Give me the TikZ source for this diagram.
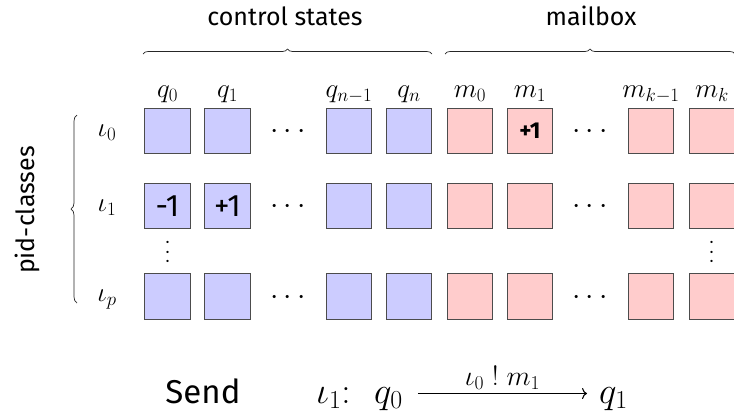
\RequirePackage{fix-cm}
\documentclass[tikz,border=0pt]{standalone}
\usepackage{fontspec}
\setmainfont{Fira Sans}
\usetikzlibrary{decorations.pathreplacing,arrows.meta}
\begin{document}
\begin{tikzpicture}[x=1pt,y=-1pt,
  cell/.style={draw=black!70, line width=1pt, minimum size=45.5pt, inner sep=0pt, outer sep=0pt},
  qcell/.style={cell, fill=blue!20},
  mcell/.style={cell, fill=red!20},
  collabel/.style={anchor=base, inner sep=0pt, font=\fontsize{27}{32}\selectfont},
  rowlabel/.style={anchor=base, inner sep=0pt, font=\fontsize{27}{32}\selectfont},
  celltext/.style={inner sep=0pt, font=\fontsize{31}{36}\selectfont},
  boldtext/.style={inner sep=0pt, font=\fontsize{23}{28}\selectfont\bfseries},
  hdots/.style={anchor=base, inner sep=0pt, font=\fontsize{30}{36}\selectfont},
  vdotsn/.style={anchor=base, rotate=90, inner sep=0pt, font=\fontsize{22}{26}\selectfont},
  headtext/.style={inner sep=0pt, font=\fontsize{25}{30}\selectfont},
  bracestyle/.style={decorate, decoration={brace, amplitude=5pt}, line width=0.7pt, black!85},
  sendtext/.style={anchor=base, inner sep=0pt, font=\fontsize{33}{40}\selectfont},
  bigmath/.style={anchor=base west, inner sep=0pt, font=\fontsize{37}{44}\selectfont},
  sendarrow/.style={-{To[length=5pt,width=11pt]}, line width=1.1pt}
]
\useasboundingbox (0,0) rectangle (734,413);

% cells
\foreach \c/\x in {qa/167.5,qb/227.5,qc/349,qd/409}
  \foreach \r/\y in {r0/131,r1/206,rp/296.5}
    \node[qcell] (\c-\r) at (\x,\y) {};
\foreach \c/\x in {ma/470,mb/530,mc/651,md/712}
  \foreach \r/\y in {r0/131,r1/206,rp/296.5}
    \node[mcell] (\c-\r) at (\x,\y) {};

% cell contents
\node[celltext] (tm1) at (qa-r1) {-1};
\node[celltext] (tp1) at (qb-r1) {+1};
\node[boldtext] (tb1) at (mb-r0) {+1};

% column labels
\node[collabel] (lqa) at (167.5,97) {$q_0$};
\node[collabel] (lqb) at (227.5,97) {$q_1$};
\node[collabel] (lqc) at (349,97) {$q_{n-1}$};
\node[collabel] (lqd) at (409,97) {$q_n$};
\node[collabel] (lma) at (470,97) {$m_0$};
\node[collabel] (lmb) at (530,97) {$m_1$};
\node[collabel] (lmc) at (651,97) {$m_{k-1}$};
\node[collabel] (lmd) at (712,97) {$m_k$};

% row labels
\node[rowlabel] (lr0) at (107,136) {$\iota_0$};
\node[rowlabel] (lr1) at (107,211) {$\iota_1$};
\node[rowlabel] (lrp) at (107,301.5) {$\iota_p$};

% dots
\node[hdots] (d1) at (288,138.5) {$\cdots$};
\node[hdots] (d2) at (288,213.5) {$\cdots$};
\node[hdots] (d3) at (288,304) {$\cdots$};
\node[hdots] (d4) at (590,138.5) {$\cdots$};
\node[hdots] (d5) at (590,213.5) {$\cdots$};
\node[hdots] (d6) at (590,304) {$\cdots$};
\node[vdotsn] (v1) at (173,252) {$\cdots$};
\node[vdotsn] (v2) at (717,252) {$\cdots$};

% braces and headings
\coordinate (bcs1) at (143,54);
\coordinate (bcs2) at (432,54);
\coordinate (bmb1) at (445,54);
\coordinate (bmb2) at (735,54);
\coordinate (bpc1) at (77,303);
\coordinate (bpc2) at (77,115);
\draw[bracestyle] (bcs1) -- (bcs2);
\draw[bracestyle] (bmb1) -- (bmb2);
\draw[bracestyle, decoration={amplitude=6pt}] (bpc1) -- (bpc2);
\node[headtext, anchor=base] (hcs) at (285,25) {control states};
\node[headtext, anchor=base] (hmb) at (591,25) {mailbox};
\node[headtext, rotate=90] (hpc) at (27,210) {pid-classes};

% Send rule
\node[sendtext] (send) at (203,403) {Send};
\node[bigmath] (fi) at (316,403) {$\iota_1\colon$};
\node[bigmath] (fq0) at (374,403) {$q_0$};
\node[bigmath] (fq1) at (599,403) {$q_1$};
\draw[sendarrow] ([shift={(15pt,9.5pt)}]fq0.base east) -- ([shift={(-12pt,9.5pt)}]fq1.base west)
  node[pos=0.5, anchor=base, yshift=8.5pt, inner sep=0pt, font=\fontsize{28}{32}\selectfont] (albl) {$\iota_0\;!\;m_1$};
\end{tikzpicture}
\end{document}
